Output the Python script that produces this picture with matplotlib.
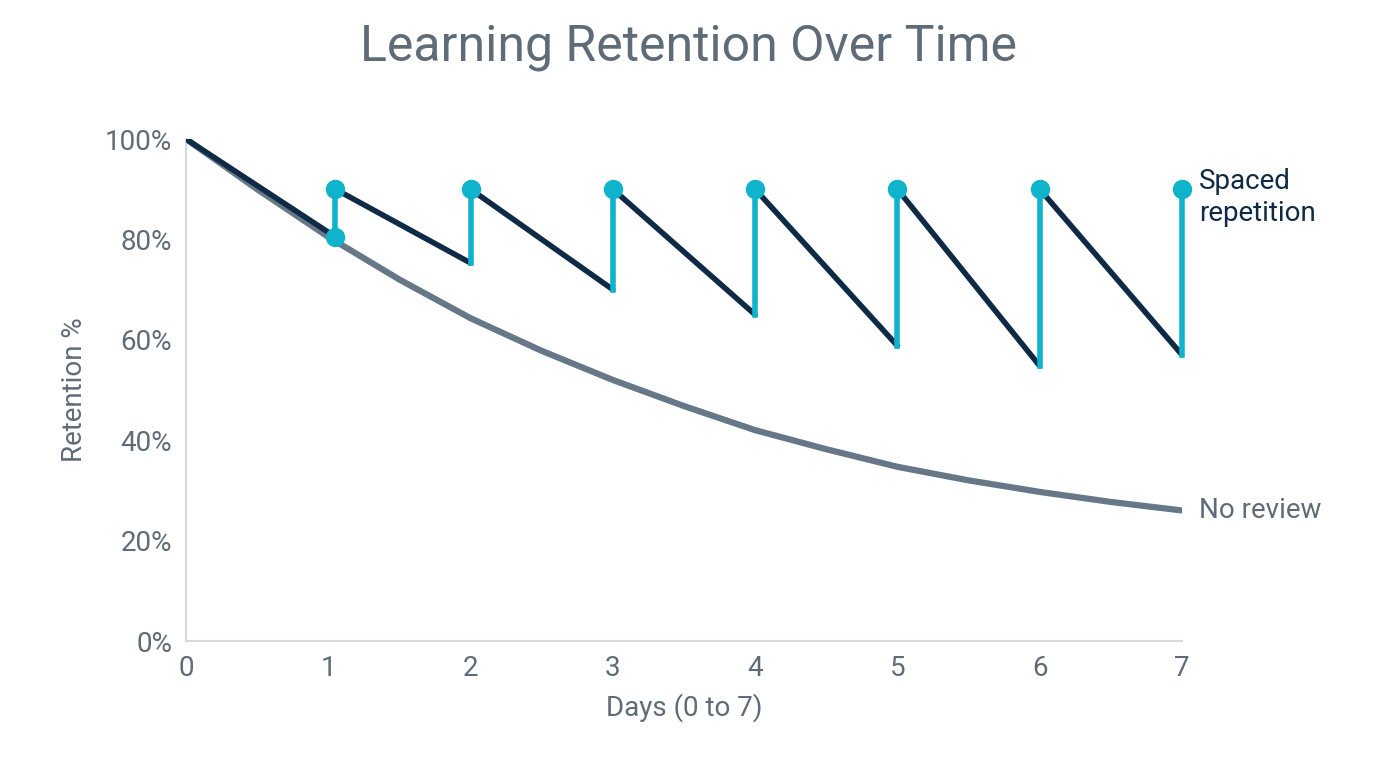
import matplotlib
matplotlib.use("Agg")
import matplotlib.pyplot as plt

days_nr = [0, 0.5, 1, 1.5, 2, 2.5, 3, 3.5, 4, 4.5, 5, 5.5, 6, 6.5, 7]
ret_nr = [100, 90, 80.5, 72, 64.3, 57.8, 52, 46.8, 42, 38.2, 34.7, 32, 29.7, 27.7, 26]

review_days = [1.05, 2, 3, 4, 5, 6, 7]
peak = 90
troughs = [80.5, 75.3, 70, 65, 58.8, 54.8, 57]

DARK = "#0f2a44"; CYAN = "#10b3cc"; GREY = "#667788"; TXT = "#5f6b77"
plt.rcParams['font.family'] = ['Roboto', 'DejaVu Sans']

fig = plt.figure(figsize=(13.76, 7.68), dpi=100)
ax = fig.add_axes([186/1376, 127/768, 996/1376, 502/768])
ax.plot(days_nr, ret_nr, color=GREY, lw=4.5, solid_capstyle='round', solid_joinstyle='round', zorder=2)

ax.plot([0, review_days[0]], [100, troughs[0]], color=DARK, lw=4, zorder=3, solid_capstyle='round')
for i in range(len(review_days) - 1):
    ax.plot([review_days[i], review_days[i+1]], [peak, troughs[i+1]], color=DARK, lw=4, zorder=3, solid_capstyle='round')
for d, t in zip(review_days, troughs):
    ax.plot([d, d], [t, peak], color=CYAN, lw=4, zorder=4, clip_on=False)
    ax.plot(d, peak, 'o', color=CYAN, ms=13, zorder=5, clip_on=False)
ax.plot(review_days[0], troughs[0], 'o', color=CYAN, ms=13, zorder=5, clip_on=False)

ax.set_xlim(0, 7); ax.set_ylim(0, 100)
ax.set_xticks(range(8))
ax.set_yticks(range(0, 101, 20))
ax.set_yticklabels([f"{v}%" for v in range(0, 101, 20)])
ax.tick_params(length=0, labelsize=20, colors=TXT, pad=10)
for s in ['top', 'right']:
    ax.spines[s].set_visible(False)
for s in ['left', 'bottom']:
    ax.spines[s].set_color('#d5d9de'); ax.spines[s].set_linewidth(1.5)
ax.set_xlabel("Days (0 to 7)", fontsize=20, color=TXT, labelpad=8)
ax.set_ylabel("Retention %", fontsize=20, color=TXT, labelpad=12)
fig.suptitle("Learning Retention Over Time", fontsize=36, color=TXT, y=0.97)
ax.text(7.12, 88.3, "Spaced\nrepetition", fontsize=20, color=DARK, va='center', ha='left', linespacing=1.25, clip_on=False)
ax.text(7.12, 26, "No review", fontsize=20, color=TXT, va='center', ha='left', clip_on=False)
fig.savefig("out.png", dpi=100, facecolor='white')
